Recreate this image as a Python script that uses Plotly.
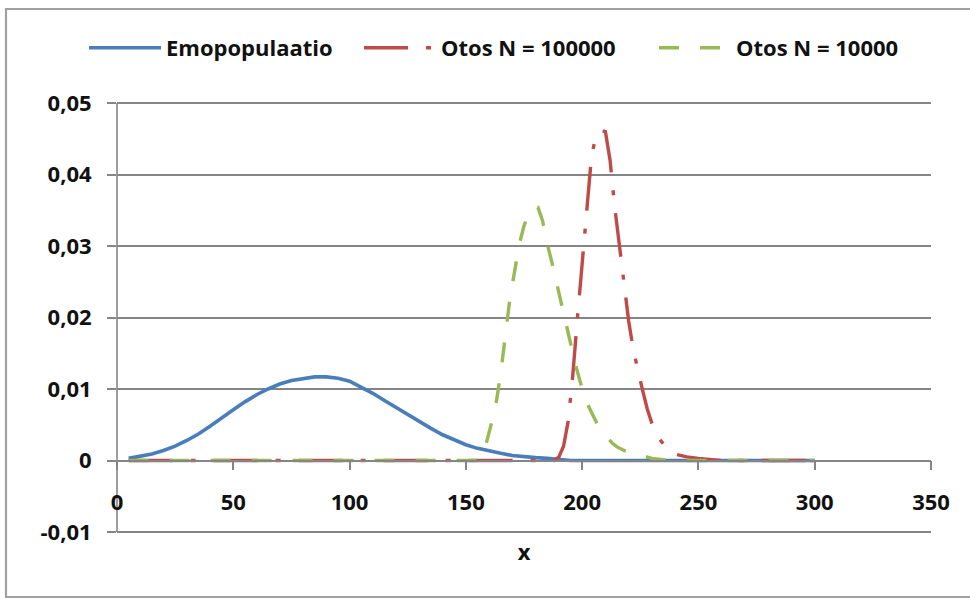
import plotly.graph_objects as go

# Parent population density, sampled every 5 units of x
x_emo = list(range(5, 305, 5))
y_emo = [0.0003, 0.0006, 0.0009, 0.0014, 0.0020, 0.0028, 0.0037, 0.0048, 0.0060, 0.0071,
         0.0082, 0.0092, 0.0100, 0.0107, 0.0112, 0.0115, 0.0117, 0.0117, 0.0115, 0.0111,
         0.0103, 0.0094, 0.0084, 0.0074, 0.0064, 0.0054, 0.0045, 0.0036, 0.0029, 0.0022,
         0.0017, 0.0013, 0.0010, 0.0007, 0.0005, 0.0004, 0.0003, 0.0001, 0.0, 0.0,
         0.0, 0.0, 0.0, 0.0, 0.0, 0.0, 0.0, 0.0, 0.0, 0.0,
         0.0, 0.0, 0.0, 0.0, 0.0, 0.0, 0.0, 0.0, 0.0, 0.0]

# Sample N = 100000
x_n100k = [5, 100, 188, 190, 192, 194, 196, 198, 200, 202, 204, 206, 208, 210, 212, 214,
           216, 218, 220, 222, 224, 226, 228, 230, 232, 234, 236, 238, 240, 245, 250, 255,
           260, 300]
y_n100k = [0.0, 0.0, 0.0, 0.0005, 0.0020, 0.0055, 0.0120, 0.0200, 0.0275, 0.0360, 0.0425,
           0.0455, 0.0462, 0.0460, 0.0420, 0.0355, 0.0300, 0.0255, 0.0195, 0.0155, 0.0125,
           0.0098, 0.0072, 0.0052, 0.0038, 0.0027, 0.0019, 0.0013, 0.0009, 0.0005, 0.0003,
           0.0001, 0.0, 0.0]

# Sample N = 10000
x_n10k = [5, 100, 155, 157, 159, 161, 163, 165, 167, 169, 171, 173, 175, 177, 179, 181,
          183, 185, 187, 189, 191, 193, 195, 197, 199, 201, 203, 205, 207, 209, 211, 213,
          215, 218, 222, 226, 230, 235, 240, 300]
y_n10k = [0.0, 0.0, 0.0, 0.0008, 0.0027, 0.0052, 0.0080, 0.0122, 0.0178, 0.0228, 0.0265,
          0.0303, 0.0328, 0.0347, 0.0355, 0.0354, 0.0335, 0.0303, 0.0277, 0.0249, 0.0218,
          0.0188, 0.0161, 0.0136, 0.0112, 0.0090, 0.0074, 0.0060, 0.0048, 0.0039, 0.0031,
          0.0024, 0.0019, 0.0014, 0.0010, 0.0006, 0.0003, 0.0001, 0.0, 0.0]

x_ticks = [0, 50, 100, 150, 200, 250, 300, 350]
y_ticks = [-0.01, 0.0, 0.01, 0.02, 0.03, 0.04, 0.05]
y_tick_text = ["-0,01", "0", "0,01", "0,02", "0,03", "0,04", "0,05"]
Y_MIN, Y_MAX = -0.01, 0.05

FONT = dict(family="Open Sans, Lato, sans-serif", size=22, color="#111111", weight="bold")
GRID = "#858585"

# value area in pixels: left 117, right 931, top 103 (0,05), bottom 532 (-0,01)
PL, PW, PB, PH = 117, 814, 532, 429
# the plot frame is grown by a few pixels so the edge gridlines stay visible
EDGE = 3
unit_per_px = (Y_MAX - Y_MIN) / PH
pad = EDGE * unit_per_px
FB, FH = PB + EDGE, PH + 2 * EDGE


def px_x(p):
    return (p - PL) / PW


def px_y(p):
    return (FB - p) / FH


fig = go.Figure()
fig.add_trace(go.Scatter(x=x_emo, y=y_emo, mode="lines", name="Emopopulaatio",
                         line=dict(color="#4A7EBB", width=3.6), legend="legend"))
fig.add_trace(go.Scatter(x=x_n100k, y=y_n100k, mode="lines", name="Otos N = 100000",
                         line=dict(color="#BE4B48", width=3.4, dash="44px,18px,5px,18px"),
                         legend="legend2"))
fig.add_trace(go.Scatter(x=x_n10k, y=y_n10k, mode="lines", name="Otos N = 10000",
                         line=dict(color="#98B954", width=3.4, dash="20px,21px"),
                         legend="legend3"))

legend_common = dict(orientation="h", xanchor="left", y=px_y(48), yanchor="middle",
                     itemwidth=72, font=FONT, bgcolor="rgba(0,0,0,0)")

fig.update_layout(
    width=970, height=599,
    margin=dict(l=PL, r=970 - PL - PW, t=FB - FH, b=599 - FB),
    paper_bgcolor="white", plot_bgcolor="white",
    separators=", ",
    font=FONT,
    showlegend=True,
    legend=dict(x=px_x(84), **legend_common),
    legend2=dict(x=px_x(359), **legend_common),
    legend3=dict(x=px_x(654), **legend_common),
    xaxis=dict(range=[0, 350], tickvals=x_ticks, showgrid=False, zeroline=False,
               anchor="free", position=(0 - (Y_MIN - pad)) / (Y_MAX - Y_MIN + 2 * pad),
               showline=True, linecolor=GRID, linewidth=1.6,
               ticks="outside", ticklen=9, tickcolor=GRID, tickwidth=1.6,
               ticklabelstandoff=13, tickfont=FONT,
               title=dict(text="x", font=FONT, standoff=29)),
    yaxis=dict(range=[Y_MIN - pad, Y_MAX + pad], tickvals=y_ticks, ticktext=y_tick_text,
               showgrid=True, gridcolor=GRID, gridwidth=1.6, zeroline=False,
               showline=False,
               ticks="outside", ticklen=9, tickcolor=GRID, tickwidth=1.6,
               ticklabelstandoff=11, tickfont=FONT),
    shapes=[
        # vertical value axis line spanning -0,01 .. 0,05
        dict(type="line", xref="paper", yref="y", x0=0, x1=0, y0=Y_MIN, y1=Y_MAX,
             line=dict(color=GRID, width=1.6), layer="below"),
        # chart frame
        dict(type="rect", xref="paper", yref="paper",
             x0=px_x(6), x1=px_x(975), y0=px_y(597), y1=px_y(9),
             line=dict(color="#a0a0a0", width=2.2), layer="below"),
    ],
)

fig.write_html("out.html")
